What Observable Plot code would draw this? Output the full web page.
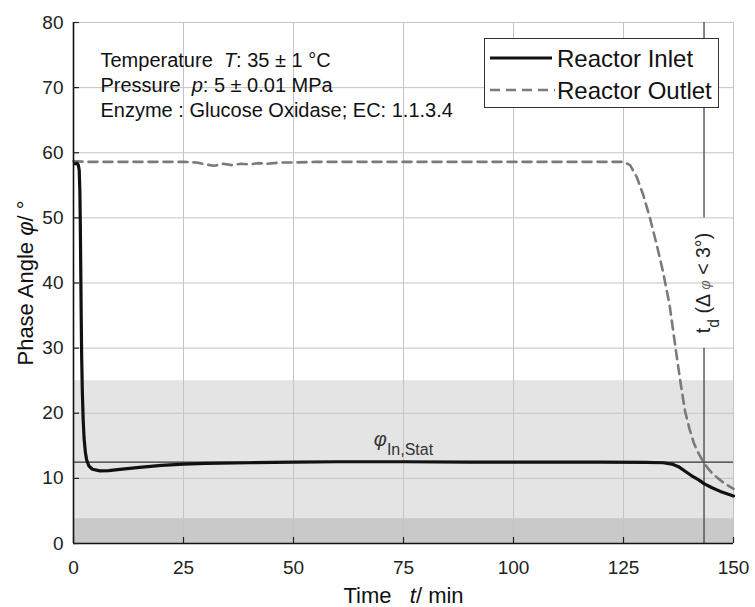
<!DOCTYPE html>
<html><head><meta charset="utf-8">
<script src="https://cdn.jsdelivr.net/npm/d3@7"></script>
<script src="https://cdn.jsdelivr.net/npm/@observablehq/plot@0.6"></script>
<style>
body{margin:0;background:#fff;font-family:"Liberation Sans",Arial,sans-serif;}
#wrap{position:relative;width:755px;height:607px;}
#legend{position:absolute;left:484px;top:38px;width:233px;height:68px;border:1px solid #333;background:#fff;color:#111;font-size:24px;}
#legend .row{position:absolute;left:72px;line-height:28px;white-space:nowrap;}
#legend svg{position:absolute;left:0;top:0;}
</style></head><body><div id="wrap"></div>
<script>
// ---- data ----
const seriesNames = ["Reactor Inlet", "Reactor Outlet"];
const inletT = [0.4, 0.8, 1.1, 1.3, 1.45, 1.55, 1.65, 1.75, 1.85, 2.0, 2.2, 2.4, 2.7, 3.0, 3.5, 4.3, 6, 8, 10, 15, 20, 25, 30, 40, 50, 60, 75, 90, 100, 110, 120, 130, 134, 136, 137.5, 139, 140.5, 142, 143.3, 145, 147, 150];
const inletPhi = [58.3, 58.4, 58.1, 57.3, 54, 49, 42, 35, 29, 23.5, 19, 16.2, 14, 12.8, 11.9, 11.4, 11.15, 11.2, 11.35, 11.7, 12.0, 12.2, 12.3, 12.4, 12.5, 12.55, 12.55, 12.5, 12.5, 12.5, 12.5, 12.45, 12.4, 12.2, 11.8, 11.1, 10.4, 9.8, 9.2, 8.6, 8.0, 7.3];
const outletT = [0, 3, 6, 10, 15, 20, 25, 28, 30, 32, 34, 36, 38, 40, 42, 44, 47, 50, 55, 60, 70, 80, 90, 100, 110, 120, 125, 126.5, 128, 129.5, 131, 132.5, 134, 135.5, 137, 138, 139, 140, 141, 142, 143, 144, 145, 146.5, 148, 150];
const outletPhi = [58.7, 58.6, 58.6, 58.6, 58.6, 58.6, 58.6, 58.5, 58.2, 58.0, 58.3, 58.1, 58.3, 58.2, 58.4, 58.3, 58.5, 58.5, 58.6, 58.6, 58.6, 58.6, 58.6, 58.6, 58.6, 58.6, 58.6, 58.1, 56.3, 53.5, 50.0, 46.0, 41.7, 36.5, 29.2, 24.5, 20.3, 17.6, 15.4, 13.9, 12.7, 11.7, 10.9, 10.0, 9.2, 8.4];
const xTicks = [0, 25, 50, 75, 100, 125, 150];
const yTicks = [0, 10, 20, 30, 40, 50, 60, 70, 80];
const bandLow = [0, 0];
const bandHigh = [25, 3.8];
const phiStat = 12.5;
const tD = 143.3;
const tdLineLow = [0, 50];
const tdLineHigh = [30, 80];
const infoLines = ["Temperature\u00a0\u00a0*T*: 35 ± 1 °C", "Pressure\u00a0\u00a0*p*: 5 ± 0.01 MPa", "Enzyme : Glucose Oxidase; EC: 1.1.3.4"];
const xLabel = "Time\u00a0\u00a0\u00a0*t*/ min";
const yLabel = "Phase Angle *φ*/ °";
const statLabel = "*φ*_{In,Stat}";
const tdLabel = "t_{d} (Δ %{φ} < 3°)";

// ---- tables ----
const inlet = inletT.map((t, i) => ({t, phi: inletPhi[i]}));
const outlet = outletT.map((t, i) => ({t, phi: outletPhi[i]}));
const bands = bandLow.map((lo, i) => ({lo, hi: bandHigh[i]}));
const tdSegs = tdLineLow.map((lo, i) => ({lo, hi: tdLineHigh[i]}));
const bandFills = ["#e4e4e4", "#c9c9c9"];

const chart = Plot.plot({
  width: 755, height: 607,
  marginLeft: 73, marginRight: 22, marginTop: 22, marginBottom: 64,
  x: {domain: [0, 150]},
  y: {domain: [0, 80]},
  style: {fontFamily: "'Liberation Sans', Arial, sans-serif", color: "#222", background: "white"},
  marks: [
    Plot.rect(bands, {y1: "lo", y2: "hi", fill: (d, i) => bandFills[i]}),
    Plot.gridX(xTicks, {stroke: "#c4c4c4", strokeOpacity: 1}),
    Plot.gridY(yTicks, {stroke: "#c4c4c4", strokeOpacity: 1}),
    Plot.ruleY([phiStat], {stroke: "#333", strokeWidth: 1.1}),
    Plot.ruleX(tdSegs, {x: tD, y1: "lo", y2: "hi", stroke: "#444", strokeWidth: 1.3}),
    Plot.line(outlet, {x: "t", y: "phi", stroke: "#7a7a7a", strokeWidth: 2.6, strokeDasharray: "9,6"}),
    Plot.line(inlet, {x: "t", y: "phi", stroke: "#111", strokeWidth: 3.2}),
    Plot.ruleX([0], {stroke: "#111", strokeWidth: 1.6}),
    Plot.ruleY([0], {stroke: "#111", strokeWidth: 1.6}),
    Plot.ruleY(yTicks, {y: d => d, x1: 0, x2: 0, insetRight: -6, stroke: "#222", strokeWidth: 1.2}),
    Plot.ruleX(xTicks, {x: d => d, y1: 0, y2: 0, insetTop: -6, stroke: "#222", strokeWidth: 1.2}),
    Plot.axisX(xTicks, {tickSize: 0, tickPadding: 17, label: null, fontSize: 19}),
    Plot.axisY(yTicks, {tickSize: 0, tickPadding: 10, label: null, fontSize: 19}),
    ...infoLines.map((s, i) => Plot.text([s], {frameAnchor: "top-left", dx: 27, dy: 44 + i * 25.3, textAnchor: "start", lineAnchor: "bottom", fontSize: 20, fill: "#111"})),
    Plot.text([xLabel], {frameAnchor: "bottom", dy: 59, textAnchor: "middle", lineAnchor: "bottom", fontSize: 22, fill: "#111"}),
    Plot.text([yLabel], {frameAnchor: "left", dx: -48, rotate: -90, textAnchor: "middle", lineAnchor: "middle", fontSize: 22, fill: "#111"}),
    Plot.text([statLabel], {x: 75, y: phiStat, dy: -16, lineAnchor: "bottom", fontSize: 20, fill: "#333"}),
    Plot.text([tdLabel], {x: tD, y: (tdLineHigh[0] + tdLineLow[1]) / 2, rotate: -90, textAnchor: "middle", lineAnchor: "middle", fontSize: 19.5, fill: "#222"})
  ]
});

const wrap = document.getElementById("wrap");
wrap.appendChild(chart);

// rich text: *italic*, _{subscript}, %{small italic}
const NS = "http://www.w3.org/2000/svg";
chart.querySelectorAll("text").forEach(t => {
  const s = t.textContent;
  if (!/\*|_\{|%\{/.test(s)) return;
  const fs = parseFloat(getComputedStyle(t).fontSize) || 20;
  const parts = s.split(/(\*[^*]+\*|_\{[^}]*\}|%\{[^}]*\})/g).filter(p => p);
  t.textContent = "";
  let shift = 0;
  parts.forEach(p => {
    const ts = document.createElementNS(NS, "tspan");
    let txt = p, target = 0;
    if (p.startsWith("*")) { txt = p.slice(1, -1); ts.setAttribute("font-style", "italic"); }
    else if (p.startsWith("_{")) { txt = p.slice(2, -1); ts.setAttribute("font-size", fs * 0.8); target = fs * 0.45; }
    else if (p.startsWith("%{")) { txt = p.slice(2, -1); ts.setAttribute("font-style", "italic"); ts.setAttribute("font-size", fs * 0.75); ts.setAttribute("fill", "#666"); }
    if (target !== shift) { ts.setAttribute("dy", target - shift); shift = target; }
    ts.textContent = txt;
    t.appendChild(ts);
  });
});

// legend
const lg = document.createElement("div");
lg.id = "legend";
lg.innerHTML = `<svg width="233" height="68">
  <line x1="5" x2="67" y1="19" y2="19" stroke="#111" stroke-width="3"/>
  <line x1="5" x2="70" y1="51" y2="51" stroke="#7a7a7a" stroke-width="2.6" stroke-dasharray="10,6"/>
</svg>
<div class="row" style="top:6px">${seriesNames[0]}</div>
<div class="row" style="top:38px">${seriesNames[1]}</div>`;
wrap.appendChild(lg);
</script>
</body></html>
